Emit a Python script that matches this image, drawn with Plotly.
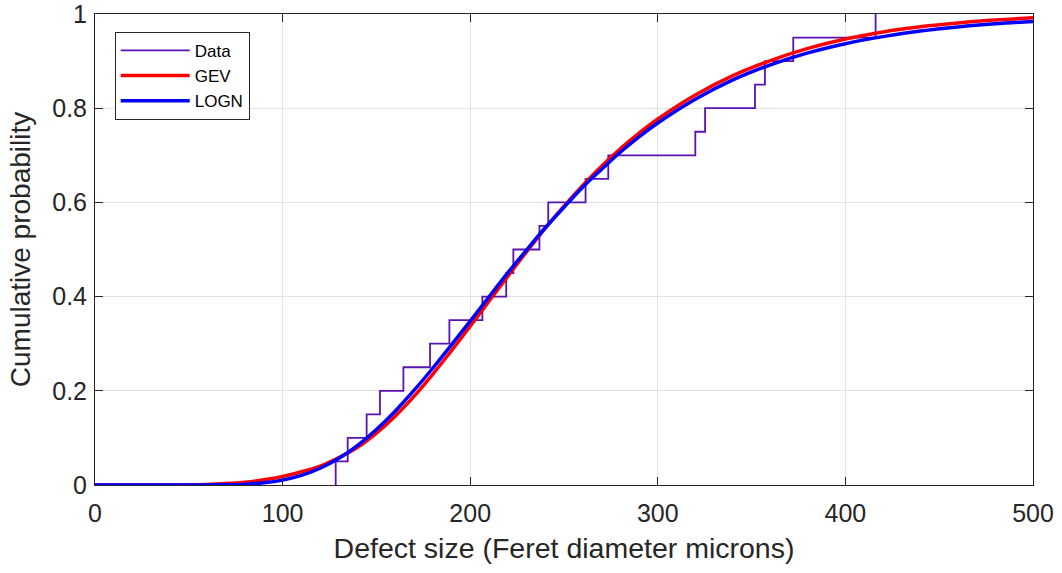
import plotly.graph_objects as go

# Empirical CDF step data (defect sizes, cumulative probabilities)
data_x = [128.3, 128.3, 134.7, 144.8, 151.9, 164.4, 178.6, 188.9, 206.5, 219.2, 223.0,
          236.9, 241.6, 261.5, 273.6, 320.0, 325.2, 351.8, 357.1, 372.2, 416.1]
data_y = [0.0, 0.05, 0.10, 0.15, 0.20, 0.25, 0.30, 0.35, 0.40, 0.45, 0.50,
          0.55, 0.60, 0.65, 0.70, 0.75, 0.80, 0.85, 0.90, 0.95, 1.00]

# Fitted curves
curve_x = [0, 20, 40, 60, 70, 80, 90, 100, 110, 120, 130, 140, 150, 160, 170, 180, 190,
           200, 210, 220, 230, 240, 250, 260, 270, 280, 290, 300, 320, 340, 360, 380,
           400, 420, 440, 460, 480, 500]
gev_y = [0.0, 0.0, 0.0001, 0.001, 0.003, 0.006, 0.011, 0.018, 0.028, 0.040, 0.058, 0.080,
         0.110, 0.146, 0.188, 0.235, 0.285, 0.337, 0.390, 0.443, 0.495, 0.545, 0.592,
         0.636, 0.677, 0.714, 0.747, 0.777, 0.828, 0.869, 0.901, 0.927, 0.947, 0.962,
         0.973, 0.981, 0.987, 0.992]
logn_y = [0.0, 0.0, 0.0, 0.0001, 0.0005, 0.0017, 0.0046, 0.0104, 0.0203, 0.0355, 0.0568,
          0.0843, 0.1178, 0.1567, 0.2007, 0.2479, 0.2974, 0.3479, 0.3994, 0.4503, 0.4988,
          0.5462, 0.5898, 0.6323, 0.670, 0.7064, 0.739, 0.7685, 0.8189, 0.860, 0.892,
          0.9174, 0.937, 0.952, 0.9637, 0.9724, 0.9791, 0.9842]

x_ticks = [0, 100, 200, 300, 400, 500]
y_ticks = [0, 0.2, 0.4, 0.6, 0.8, 1]
y_tick_labels = ["0", "0.2", "0.4", "0.6", "0.8", "1"]

FONT = "Liberation Sans"
TXT = "#262626"

fig = go.Figure()
fig.add_trace(go.Scatter(x=data_x, y=data_y, mode="lines", name="Data", legendgroup="a",
                         line=dict(color="#5B12B2", width=1.8, shape="hv")))
fig.add_trace(go.Scatter(x=curve_x, y=gev_y, mode="lines", name="GEV", legendgroup="b",
                         line=dict(color="#FF0000", width=3.5, shape="spline")))
fig.add_trace(go.Scatter(x=curve_x, y=logn_y, mode="lines", name="LOGN", legendgroup="c",
                         line=dict(color="#0000FF", width=3.5, shape="spline")))

axis_common = dict(showline=True, linecolor=TXT, linewidth=1, mirror="allticks",
                   ticks="inside", ticklen=8, tickcolor=TXT, automargin=False,
                   ticklabeloverflow="allow",
                   showgrid=True, gridcolor="#E3E3E3", gridwidth=1, zeroline=False,
                   tickfont=dict(family=FONT, size=25, color=TXT))

fig.update_xaxes(range=[0, 500], tickvals=x_ticks, ticktext=[str(v) for v in x_ticks],
                 ticklabelstandoff=6,
                 title=dict(text="Defect size (Feret diameter microns)",
                            font=dict(family=FONT, size=28.5, color=TXT), standoff=12),
                 **axis_common)
fig.update_yaxes(range=[0, 1], tickvals=y_ticks, ticktext=y_tick_labels,
                 ticklabelstandoff=2,
                 title=dict(text="Cumulative probability",
                            font=dict(family=FONT, size=28, color=TXT), standoff=13),
                 **axis_common)

fig.update_layout(
    width=1062, height=573,
    margin=dict(l=95, r=29, t=14, b=88),
    plot_bgcolor="white", paper_bgcolor="white",
    showlegend=True,
    legend=dict(x=0.021, y=0.962, xanchor="left", yanchor="top",
                bgcolor="white", bordercolor=TXT, borderwidth=1,
                font=dict(family=FONT, size=17, color="black"),
                traceorder="grouped", tracegroupgap=0, itemwidth=69),
)

fig.write_html("out.html", config={"displayModeBar": False},
               post_script="document.body.style.margin='0';")
